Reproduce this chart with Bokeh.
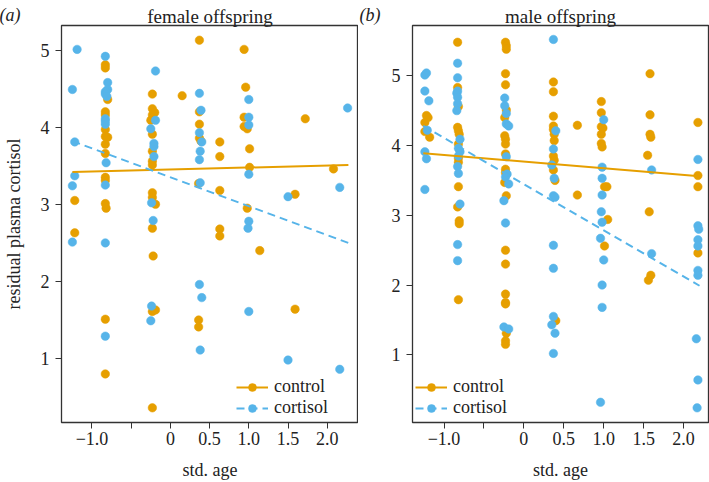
from bokeh.plotting import figure
from bokeh.models import Range1d, FixedTicker, Legend, LegendItem, Title
from bokeh.layouts import row
from bokeh.embed import file_html
from bokeh.resources import INLINE

# ---------------- data ----------------
x_ticks = [-1.0, -0.5, 0.0, 0.5, 1.0, 1.5, 2.0]
x_tick_labels = ["\u22121.0", "", "0", "0.5", "1.0", "1.5", "2.0"]
y_ticks = [1, 2, 3, 4, 5]

# female offspring
f_control_x = [-1.22, -1.22,
               -0.83, -0.83, -0.80, -0.83, -0.83, -0.83, -0.83, -0.80, -0.83, -0.83, -0.83, -0.83, -0.83, -0.82, -0.83, -0.83,
               -0.23, -0.23, -0.20, -0.23, -0.25, -0.23, -0.23, -0.23, -0.23, -0.23, -0.23, -0.19, -0.23, -0.22, -0.23, -0.19, -0.23,
               0.15,
               0.37, 0.37, 0.37, 0.37, 0.39, 0.36, 0.36, 0.36,
               0.63, 0.63, 0.63, 0.63, 0.63,
               0.94, 0.96, 0.94, 0.94, 0.98, 1.01, 1.01, 0.98, 1.14,
               1.72, 1.59, 1.59, 2.08]
f_control_y = [3.05, 2.63,
               4.81, 4.77, 4.36, 4.20, 4.16, 3.97, 3.88, 3.87, 3.78, 3.66, 3.35, 3.31, 3.01, 2.95, 1.51, 0.80,
               4.43, 4.24, 4.19, 4.16, 4.09, 3.91, 3.69, 3.56, 3.51, 3.15, 3.09, 3.00, 2.69, 2.33, 1.61, 1.63, 0.36,
               4.41,
               5.13, 4.20, 4.04, 3.86, 3.82, 3.27, 1.50, 1.41,
               3.81, 3.62, 3.18, 2.68, 2.59,
               5.01, 4.52, 4.13, 4.01, 3.98, 3.72, 3.48, 2.95, 2.40,
               4.11, 3.13, 1.64, 3.46]
f_cortisol_x = [-1.19, -1.25, -1.22, -1.22, -1.25, -1.25,
                -0.83, -0.80, -0.80, -0.83, -0.83, -0.81, -0.83, -0.83, -0.83, -0.82, -0.83, -0.83, -0.83,
                -0.19, -0.19, -0.25, -0.21, -0.21, -0.21, -0.24, -0.22, -0.24, -0.25,
                0.37, 0.39, 0.37, 0.40, 0.38, 0.37, 0.38, 0.37, 0.40, 0.38,
                1.00, 1.00, 1.00, 1.00, 1.00, 0.99, 1.00,
                1.50, 1.50, 2.26, 2.16, 2.16]
f_cortisol_y = [5.01, 4.49, 3.81, 3.37, 3.24, 2.51,
                4.92, 4.58, 4.49, 4.46, 4.43, 4.40, 4.11, 4.08, 4.04, 3.54, 3.25, 2.50, 1.29,
                4.73, 4.09, 3.98, 3.79, 3.75, 3.62, 3.02, 2.79, 1.68, 1.49,
                4.44, 4.22, 3.93, 3.81, 3.69, 3.58, 3.28, 1.96, 1.79, 1.11,
                4.36, 4.13, 4.03, 3.39, 2.78, 2.69, 1.61,
                3.10, 0.98, 4.25, 3.22, 0.86]
f_fit_x = [-1.25, 2.27]
f_fit_control = [3.42, 3.51]
f_fit_cortisol = [3.82, 2.50]

# male offspring
m_control_x = [-1.22, -1.20, -1.24, -1.24, -1.18,
               -0.83, -0.83, -0.82, -0.83, -0.82, -0.81, -0.82, -0.82, -0.82, -0.82, -0.83, -0.81, -0.81, -0.82,
               -0.23, -0.22, -0.22, -0.23, -0.23, -0.22, -0.24, -0.24, -0.23, -0.23, -0.23, -0.23, -0.23, -0.24, -0.22,
               -0.23, -0.23, -0.23, -0.23, -0.23, -0.22, -0.23, -0.23,
               0.37, 0.37, 0.37, 0.37, 0.37, 0.38, 0.38, 0.37, 0.38, 0.37, 0.39, 0.40,
               0.67, 0.67,
               0.97, 0.97, 0.97, 0.99, 0.97, 0.97, 0.98, 1.01, 1.04, 1.05, 1.01,
               1.58, 1.58, 1.58, 1.59, 1.55, 1.57, 1.59, 1.56,
               2.18, 2.18, 2.18, 2.18]
m_control_y = [4.43, 4.40, 4.33, 4.20, 4.12,
               5.48, 4.83, 4.56, 4.26, 4.21, 4.16, 4.02, 3.82, 3.76, 3.41, 3.12, 2.92, 2.88, 1.79,
               5.48, 5.43, 5.38, 5.03, 4.87, 4.51, 4.40, 4.14, 4.09, 4.02, 3.88, 3.66, 3.61, 3.47, 3.28,
               2.50, 2.30, 1.87, 1.75, 1.73, 1.31, 1.20, 1.15,
               4.91, 4.77, 4.42, 4.28, 4.23, 4.16, 4.07, 3.85, 3.79, 3.65, 3.50, 1.49,
               4.29, 3.29,
               4.63, 4.47, 4.27, 4.25, 4.16, 4.03, 3.98, 3.41, 3.41, 2.94, 2.56,
               5.03, 4.44, 4.16, 4.12, 3.86, 3.05, 2.14, 2.07,
               4.33, 3.57, 3.41, 2.46]
m_cortisol_x = [-1.22, -1.24, -1.24, -1.19, -1.21, -1.24, -1.22, -1.24,
                -0.83, -0.83, -0.83, -0.84, -0.83, -0.83, -0.84, -0.80, -0.82, -0.80, -0.82, -0.83, -0.82, -0.80, -0.83, -0.83,
                -0.24, -0.24, -0.22, -0.22, -0.19, -0.22, -0.21, -0.23, -0.19, -0.25, -0.23, -0.25, -0.19,
                0.37, 0.40, 0.37, 0.35, 0.38, 0.37, 0.39, 0.37, 0.37, 0.37, 0.35, 0.39, 0.37,
                1.00, 0.98, 0.98, 0.98, 0.97, 0.98, 0.96, 1.00, 0.98, 0.98, 0.96,
                1.60, 1.60,
                2.18, 2.18, 2.19, 2.18, 2.18, 2.18, 2.18, 2.16, 2.18, 2.17]
m_cortisol_y = [5.04, 5.01, 4.78, 4.64, 4.22, 3.91, 3.81, 3.37,
                5.18, 4.97, 4.78, 4.75, 4.69, 4.60, 4.50, 4.09, 3.96, 3.91, 3.85, 3.70, 3.60, 3.16, 2.58, 2.35,
                4.68, 4.57, 4.46, 4.31, 4.28, 3.84, 3.59, 3.55, 3.45, 3.21, 2.89, 1.40, 1.37,
                5.52, 4.21, 3.95, 3.72, 3.53, 3.28, 3.26, 2.57, 2.24, 1.55, 1.43, 1.31, 1.02,
                4.37, 3.69, 3.53, 3.29, 3.05, 2.90, 2.67, 2.36, 2.00, 1.68, 0.32,
                3.65, 2.45,
                3.80, 2.85, 2.80, 2.65, 2.56, 2.21, 2.14, 1.23, 0.64, 0.24]
m_fit_x = [-1.26, 2.20]
m_fit_control = [3.89, 3.56]
m_fit_cortisol = [4.28, 1.99]

# ---------------- style ----------------
ORANGE = "#E69F00"
BLUE = "#56B4E9"
FONT = "Liberation Serif"
INK = "#222222"
FH = 397


def panel(title, tag, xr, yr, cx, cy, kx, ky, fx, fc, fk, ylabel,
          fw, border_left, border_right, legend_x, tag_offset):
    p = figure(title=None, frame_width=fw, frame_height=FH,
               x_range=Range1d(*xr), y_range=Range1d(*yr),
               output_backend="svg", toolbar_location=None,
               min_border_left=border_left, min_border_right=border_right,
               min_border_top=25, min_border_bottom=59)
    p.grid.visible = False
    p.outline_line_color = "#333333"
    p.outline_line_width = 1.3
    p.background_fill_color = "white"
    p.border_fill_color = "white"

    for ax in (p.xaxis[0], p.yaxis[0]):
        ax.axis_line_color = None
        ax.major_tick_out = 6
        ax.major_tick_in = 0
        ax.minor_tick_out = 0
        ax.minor_tick_in = 0
        ax.major_tick_line_color = "#333333"
        ax.major_tick_line_width = 1
        ax.major_label_text_font = FONT
        ax.major_label_text_font_size = "18px"
        ax.major_label_text_color = INK
        ax.axis_label_text_font = FONT
        ax.axis_label_text_font_size = "18px"
        ax.axis_label_text_font_style = "normal"
        ax.axis_label_text_color = INK

    p.xaxis.ticker = FixedTicker(ticks=x_ticks)
    p.xaxis.major_label_overrides = dict(zip(x_ticks, x_tick_labels))
    p.xaxis.major_label_standoff = 3
    p.xaxis.axis_label = "std. age"
    p.xaxis.axis_label_standoff = 12

    p.yaxis.ticker = FixedTicker(ticks=y_ticks)
    p.yaxis.major_label_standoff = 6
    if ylabel:
        p.yaxis.axis_label = ylabel
        p.yaxis.axis_label_standoff = 14

    s_ctrl = p.scatter(cx, cy, size=8.5, fill_color=ORANGE, line_color=ORANGE, line_width=0.5)
    s_cort = p.scatter(kx, ky, size=8.5, fill_color=BLUE, line_color=BLUE, line_width=0.5)
    l_ctrl = p.line(fx, fc, line_color=ORANGE, line_width=2)
    l_cort = p.line(fx, fk, line_color=BLUE, line_width=2, line_dash="8 5")

    legend = Legend(items=[LegendItem(label="control", renderers=[l_ctrl, s_ctrl]),
                           LegendItem(label="cortisol", renderers=[l_cort, s_cort])],
                    location=(legend_x, 4), glyph_width=32, glyph_height=20,
                    label_standoff=6, padding=0, spacing=0, margin=0,
                    label_text_font=FONT, label_text_font_size="18px",
                    label_text_color=INK,
                    background_fill_alpha=0, border_line_color=None)
    p.add_layout(legend)

    # panel title (nearest the frame)
    p.add_layout(Title(text=title, align="center", vertical_align="bottom",
                       standoff=-2, text_font=FONT, text_font_size="19px",
                       text_font_style="normal", text_color=INK), "above")
    # panel tag, collapsed outer row so that it sits level with the title
    p.add_layout(Title(text="\n" + tag, align="left", vertical_align="middle",
                       standoff=-43, offset=tag_offset, text_font=FONT,
                       text_font_size="18px", text_font_style="italic",
                       text_color=INK), "above")
    return p


p1 = panel("female offspring", "(a)", (-1.389, 2.399), (0.17, 5.32),
           f_control_x, f_control_y, f_cortisol_x, f_cortisol_y,
           f_fit_x, f_fit_control, f_fit_cortisol,
           "residual plasma cortisol", 297, 60, 0, 175, -62)
p2 = panel("male offspring", "(b)", (-1.395, 2.3125), (0.03, 5.72),
           m_control_x, m_control_y, m_cortisol_x, m_cortisol_y,
           m_fit_x, m_fit_control, m_fit_cortisol,
           None, 296, 54, 1, 3, -53)

layout = row(p1, p2)
open("out.html", "w").write(file_html(layout, INLINE))
